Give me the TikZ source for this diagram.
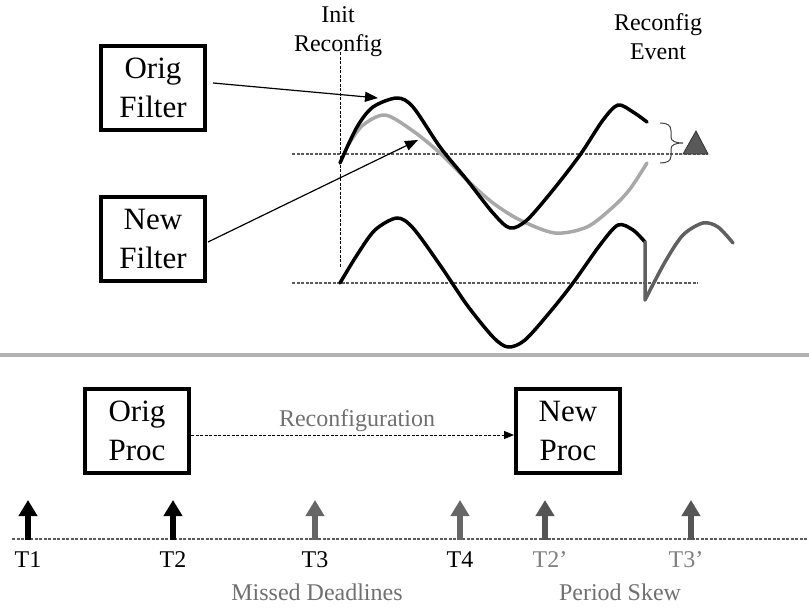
\documentclass[tikz,border=0pt]{standalone}
\usepackage{fontspec}
\setmainfont{Liberation Serif}
\usetikzlibrary{arrows.meta,calc}

\definecolor{guidegray}{HTML}{5A5A5A}
\definecolor{lightwave}{HTML}{A8A8A8}
\definecolor{darkwave}{HTML}{606060}
\definecolor{missgray}{HTML}{666666}
\definecolor{skewgray}{HTML}{555555}
\definecolor{notegray}{HTML}{707070}
\definecolor{skewtext}{HTML}{808080}
\definecolor{sepgray}{HTML}{B3B3B3}
\definecolor{trifill}{HTML}{595959}

\tikzset{
  blockbox/.style={draw, line width=4pt, minimum width=104pt, minimum height=84pt,
    inner sep=0pt, align=center, font=\fontsize{31}{39}\selectfont},
  lbl/.style={font=\fontsize{24}{29}\selectfont, align=center, inner sep=0pt},
  guide/.style={draw=guidegray, line width=1.2pt, dash pattern=on 3pt off 1.5pt},
  wave/.style={line width=3.5pt, line join=round, line cap=round},
  pointer/.style={line width=1.2pt, -{Triangle[length=13pt,width=10pt]}},
  tickarrow/.style={line width=6pt, -{Triangle[length=16pt,width=18pt]}},
}

\begin{document}
\begin{tikzpicture}[x=1pt,y=-1pt]
\useasboundingbox (0,0) rectangle (809,613);

% ---------- upper part: filter outputs ----------
\node[blockbox] (of) at (153,88) {Orig\\Filter};
\node[blockbox] (nf) at (153,239) {New\\Filter};

\node[lbl] (initlbl) at (338,32) {Init\\Reconfig};
\node[lbl] (evlbl) at (658,37) {Reconfig\\Event};

% reference levels and the reconfiguration instant
\draw[guide] (292,154) -- (708,154);
\draw[guide] (292,283) -- (698,283);
\draw[draw=black, line width=1pt, dash pattern=on 3pt off 1.5pt] (340,52) -- (340,267);

% original filter output (black) and new filter output (gray)
\draw[wave, lightwave] plot[smooth] coordinates {
  (347,147) (362,126) (385,115) (413,131) (440,153) (467,180) (493,203)
  (520,220) (555,233) (587,227) (613,207) (630,189) (647,163)};
\draw[wave, black] plot[smooth] coordinates {
  (340,163) (357,127) (373,107) (397,98) (413,107) (440,147) (467,180)
  (493,213) (510,228) (527,220) (553,190) (580,155) (603,120) (618,105)
  (633,112) (647,122)};

% combined output with the switch-over glitch
\draw[wave, black] plot[smooth] coordinates {
  (340,283) (357,255) (375,230) (397,218) (413,228) (440,265) (467,305)
  (493,337) (508,347) (525,340) (550,312) (573,283) (600,245) (618,225)
  (633,230) (645,242)};
\draw[wave, darkwave] (645,242) -- plot[smooth] coordinates {
  (645,300) (665,262) (683,235) (703,223) (718,227) (733,243)};

% delta brace and triangle
\draw[draw=black!75, line width=1pt]
  (660,123) .. controls (667,123) and (671,125) .. (671,131) -- (671,137)
  .. controls (671,141) and (675,143) .. (683,143)
  .. controls (675,143) and (671,145) .. (671,149) -- (671,156)
  .. controls (671,161) and (667,163) .. (660,163);
\draw[fill=trifill, draw=black!80, line width=0.8pt] (696,131) -- (708,154) -- (683,154) -- cycle;

% pointers from the filter boxes
\coordinate (origtip) at (378,98);
\coordinate (newtip) at (418,140);
\draw[pointer] ($(of.east)+(6,-5)$) -- (origtip);
\draw[pointer] ($(nf.east)+(1,3)$) -- (newtip);

% ---------- separator ----------
\draw[line width=4pt, sepgray] (0,355) -- (809,355);

% ---------- lower part: process timeline ----------
\node[blockbox] (op) at (137,431) {Orig\\Proc};
\node[blockbox] (np) at (568,431) {New\\Proc};
\draw[line width=1pt, dash pattern=on 3pt off 1.5pt, -{Triangle[length=10pt,width=8pt]}]
  ([yshift=-4pt]op.east) -- ([yshift=-4pt]np.west);
\node[lbl, text=notegray, anchor=base] (reclbl) at (357,426) {Reconfiguration};

\draw[guide] (12,539) -- (809,539);

\coordinate (a1) at (28,540);
\coordinate (a2) at (173,540);
\coordinate (a3) at (315,540);
\coordinate (a4) at (460,540);
\coordinate (a5) at (545,540);
\coordinate (a6) at (691,540);
\draw[tickarrow, black] (a1) -- ++(0,-40);
\draw[tickarrow, black] (a2) -- ++(0,-40);
\draw[tickarrow, missgray] (a3) -- ++(0,-40);
\draw[tickarrow, missgray] (a4) -- ++(0,-40);
\draw[tickarrow, skewgray] (a5) -- ++(0,-40);
\draw[tickarrow, skewgray] (a6) -- ++(0,-40);

\node[lbl, anchor=base] (t1) at (28,567) {T1};
\node[lbl, anchor=base] (t2) at (173,567) {T2};
\node[lbl, anchor=base] (t3) at (315,567) {T3};
\node[lbl, anchor=base] (t4) at (460,567) {T4};
\node[lbl, anchor=base, text=skewtext] (t2p) at (550,567) {T2’};
\node[lbl, anchor=base, text=skewtext] (t3p) at (686,567) {T3’};

\node[lbl, anchor=base, text=notegray] (missed) at (317,600) {Missed Deadlines};
\node[lbl, anchor=base, text=notegray] (skew) at (620,600) {Period Skew};
\end{tikzpicture}
\end{document}
